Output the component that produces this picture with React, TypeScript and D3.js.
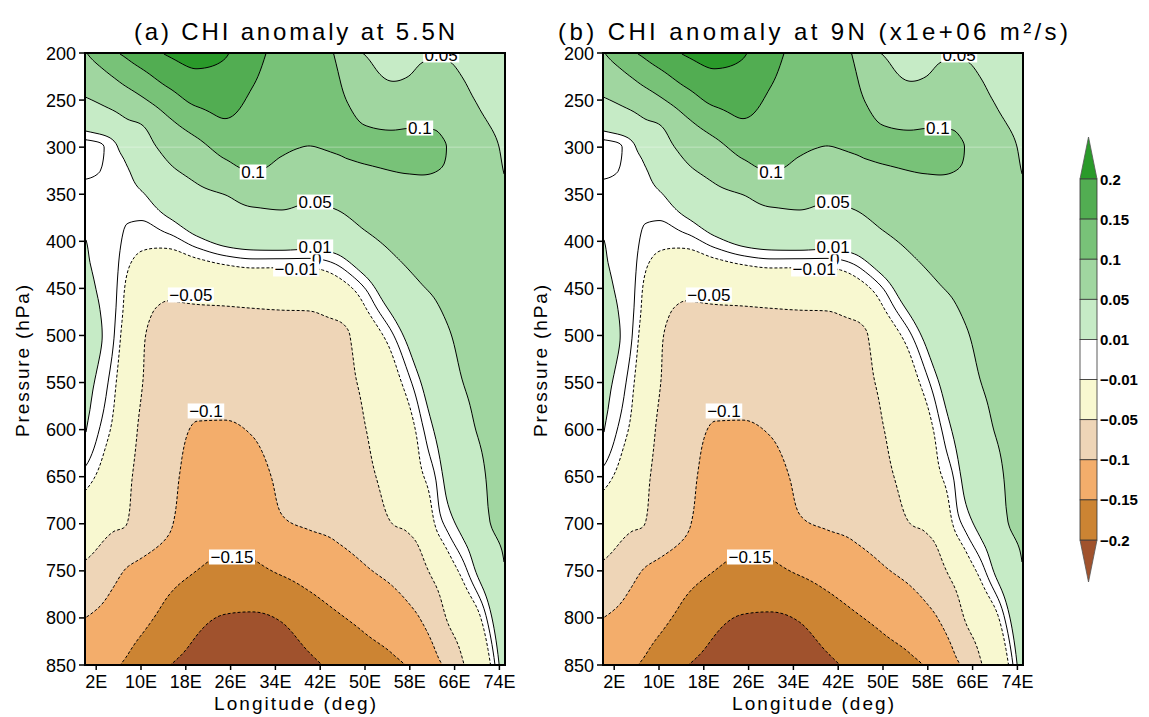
import React from "react";
import * as d3 from "d3";

// ---------------- data (velocity potential anomaly, x1e+06 m2/s) ----------------
const LON = [0, 2.5, 5, 7.5, 10, 15, 20, 25, 30, 35, 40, 45, 50, 55, 57.5, 60, 62.5, 65, 67.5, 70, 72.5, 75];
const PRES = [200, 225, 250, 275, 300, 325, 350, 375, 400, 425, 450, 475, 500, 550, 600, 650, 700, 750, 800, 850];

const p200 = [0.097, 0.12, 0.143, 0.16, 0.179, 0.205, 0.215, 0.204, 0.164, 0.137, 0.118, 0.096, 0.0485, 0.04, 0.041, 0.046, 0.048, 0.047, 0.043, 0.038, 0.034, 0.03];
const p225 = [0.0723, 0.0842, 0.1007, 0.1189, 0.1348, 0.1702, 0.1914, 0.1866, 0.155, 0.129, 0.1135, 0.102, 0.066, 0.046, 0.0495, 0.057, 0.059, 0.056, 0.0495, 0.0445, 0.039, 0.034];
const p250 = [0.0464, 0.0543, 0.065, 0.0777, 0.0927, 0.1284, 0.1604, 0.1663, 0.1421, 0.121, 0.109, 0.105, 0.086, 0.076, 0.074, 0.075, 0.072, 0.066, 0.056, 0.049, 0.044, 0.038];
const p275 = [0.0187, 0.0248, 0.0317, 0.044, 0.0507, 0.0907, 0.1213, 0.1447, 0.1283, 0.113, 0.1045, 0.108, 0.0991, 0.0943, 0.0957, 0.0966, 0.0957, 0.0851, 0.068, 0.056, 0.0488, 0.042];
const p300 = [-0.0035, -0.002, 0.006, 0.019, 0.033, 0.063, 0.087, 0.112, 0.1145, 0.1049, 0.0995, 0.104, 0.11, 0.111, 0.112, 0.11, 0.106, 0.098, 0.081, 0.068, 0.056, 0.046];
const p325 = [-0.0015, -0.0003, 0.005, 0.0085, 0.021, 0.0442, 0.0619, 0.0876, 0.1008, 0.0904, 0.0797, 0.0851, 0.0948, 0.1003, 0.1015, 0.1017, 0.1005, 0.096, 0.08, 0.069, 0.058, 0.049];
const p350 = [0.003, 0.004, 0.005, 0.005, 0.0082, 0.0272, 0.0411, 0.0506, 0.0656, 0.066, 0.0577, 0.064, 0.0774, 0.0861, 0.0892, 0.0917, 0.0914, 0.0868, 0.079, 0.072, 0.061, 0.052];
const p375 = [0.0067, 0.005, 0.005, 0.0011, 0.0009, 0.0101, 0.0241, 0.0326, 0.0387, 0.0423, 0.0374, 0.043, 0.06, 0.0718, 0.0766, 0.0806, 0.082, 0.0803, 0.077, 0.073, 0.063, 0.054];
const p400 = [0.0105, 0.0065, 0.0048, -0.0034, -0.0069, -0.0048, 0.0057, 0.015, 0.019, 0.0201, 0.018, 0.0222, 0.041, 0.0576, 0.0641, 0.0695, 0.0726, 0.0738, 0.074, 0.073, 0.064, 0.056];
const p425 = [0.0115, 0.0078, 0.0045, -0.0083, -0.014, -0.0222, -0.0162, -0.0101, -0.0066, -0.0069, -0.0068, 0.0, 0.0196, 0.043, 0.0516, 0.0585, 0.0632, 0.0673, 0.07, 0.071, 0.065, 0.058];
const p450 = [0.013, 0.009, 0.004, -0.0125, -0.0204, -0.0408, -0.038, -0.035, -0.0318, -0.0304, -0.0295, -0.02, 0.0, 0.0279, 0.039, 0.0478, 0.0538, 0.0608, 0.066, 0.069, 0.065, 0.059];
const p475 = [0.014, 0.0105, 0.003, -0.0162, -0.038, -0.056, -0.0546, -0.054, -0.0525, -0.051, -0.0505, -0.0407, -0.013, 0.0129, 0.0265, 0.0384, 0.0459, 0.0542, 0.062, 0.066, 0.064, 0.06];
const p500 = [0.0145, 0.0115, 0.0015, -0.021, -0.046, -0.06, -0.0645, -0.0641, -0.0614, -0.0569, -0.0557, -0.062, -0.027, -0.0008, 0.014, 0.0288, 0.039, 0.0482, 0.058, 0.063, 0.063, 0.06];
const p550 = [0.013, 0.0073, -0.0055, -0.0277, -0.048, -0.0677, -0.0842, -0.0844, -0.0793, -0.0688, -0.0661, -0.0632, -0.043, -0.018, -0.0047, 0.0101, 0.0253, 0.038, 0.05, 0.057, 0.061, 0.06];
const p600 = [0.011, 0.0002, -0.013, -0.034, -0.055, -0.08, -0.1032, -0.1037, -0.0972, -0.0807, -0.0765, -0.0736, -0.051, -0.0276, -0.0197, -0.0029, 0.0116, 0.0277, 0.0386, 0.051, 0.058, 0.059];
const p650 = [-0.004, -0.0132, -0.028, -0.0438, -0.06, -0.0858, -0.1189, -0.1203, -0.1156, -0.0926, -0.0869, -0.084, -0.06, -0.037, -0.0328, -0.013, -0.0003, 0.0175, 0.0271, 0.0384, 0.055, 0.058];
const p700 = [-0.0265, -0.0356, -0.044, -0.05, -0.065, -0.094, -0.1346, -0.1369, -0.1342, -0.104, -0.097, -0.092, -0.078, -0.0496, -0.0459, -0.0361, -0.0094, 0.0047, 0.0157, 0.0251, 0.0505, 0.055];
const p750 = [-0.0579, -0.068, -0.087, -0.1033, -0.113, -0.134, -0.1503, -0.1591, -0.1571, -0.1454, -0.1317, -0.1174, -0.1039, -0.0875, -0.0763, -0.0608, -0.0399, -0.0194, -0.005, 0.0119, 0.0295, 0.0497];
const p800 = [-0.1, -0.108, -0.12, -0.1293, -0.1388, -0.1646, -0.1899, -0.2027, -0.205, -0.197, -0.1748, -0.155, -0.1395, -0.1245, -0.1132, -0.0983, -0.0778, -0.0438, -0.0291, -0.0156, 0.0082, 0.036];
const p850 = [-0.125, -0.13, -0.145, -0.155, -0.171, -0.199, -0.212, -0.224, -0.226, -0.222, -0.208, -0.19, -0.17, -0.157, -0.148, -0.1275, -0.11, -0.089, -0.052, -0.036, -0.009, 0.025];

const CHI_ROWS = [p200, p225, p250, p275, p300, p325, p350, p375, p400, p425, p450, p475, p500, p550, p600, p650, p700, p750, p800, p850];

const FILL_LEVELS = [-0.2, -0.15, -0.1, -0.05, -0.01, 0.01, 0.05, 0.1, 0.15, 0.2];
const LINE_LEVELS = [-0.2, -0.15, -0.1, -0.05, -0.01, 0, 0.01, 0.05, 0.1, 0.15, 0.2];
// colour below first level, then above each level
const BAND_COLORS = ["#a0522d", "#cc8433", "#f3ad6b", "#eed5b7", "#f8f8d0", "#ffffff", "#c6ebc6", "#a0d6a0", "#78c278", "#52ad52", "#2a9a2a"];
const CBAR_LABELS = ["0.2", "0.15", "0.1", "0.05", "0.01", "\u22120.01", "\u22120.05", "\u22120.1", "\u22120.15", "\u22120.2"];

const X_TICKS = [2, 10, 18, 26, 34, 42, 50, 58, 66, 74];
const X_TICK_LABELS = ["2E", "10E", "18E", "26E", "34E", "42E", "50E", "58E", "66E", "74E"];
const Y_TICKS = [200, 250, 300, 350, 400, 450, 500, 550, 600, 650, 700, 750, 800, 850];

const LABEL_TEXT = ["0.05", "0.1", "0.1", "0.05", "0", "0.01", "\u22120.01", "\u22120.05", "\u22120.1", "\u22120.15"];
const LABEL_LON = [63.6, 59.8, 30.0, 41.1, 41.4, 41.1, 37.7, 18.9, 21.6, 26.25];
const LABEL_P = [202.1, 279.7, 326.4, 358.3, 418.8, 406.0, 429.4, 457.0, 580.2, 735.3];

const TITLES = ["(a) CHI anomaly at 5.5N", "(b) CHI anomaly at 9N (x1e+06 m\u00b2/s)"];

// ---------------- helpers ----------------
function monotoneInterp(xs: number[], ys: number[]) {
  const n = xs.length;
  const h: number[] = [];
  const s: number[] = [];
  for (let i = 0; i < n - 1; i++) {
    h[i] = xs[i + 1] - xs[i];
    s[i] = (ys[i + 1] - ys[i]) / h[i];
  }
  const m: number[] = new Array(n).fill(0);
  for (let i = 1; i < n - 1; i++) {
    const p = (s[i - 1] * h[i] + s[i] * h[i - 1]) / (h[i - 1] + h[i]);
    m[i] = (Math.sign(s[i - 1]) + Math.sign(s[i])) * Math.min(Math.abs(s[i - 1]), Math.abs(s[i]), 0.5 * Math.abs(p));
  }
  const end = (h0: number, h1: number, s0: number, s1: number) => {
    const p0 = s0 * (1 + h0 / (h0 + h1)) - (s1 * h0) / (h0 + h1);
    if (p0 * s0 <= 0) return 0;
    if (Math.abs(p0) > 2 * Math.abs(s0)) return 2 * s0;
    return p0;
  };
  m[0] = end(h[0], h[1], s[0], s[1]);
  m[n - 1] = end(h[n - 2], h[n - 3], s[n - 2], s[n - 3]);
  return (x: number) => {
    let i = 0;
    while (i < n - 2 && x > xs[i + 1]) i++;
    const t = Math.max(0, Math.min(1, (x - xs[i]) / h[i]));
    const t2 = t * t, t3 = t2 * t;
    return (2 * t3 - 3 * t2 + 1) * ys[i] + (t3 - 2 * t2 + t) * h[i] * m[i] + (-2 * t3 + 3 * t2) * ys[i + 1] + (t3 - t2) * h[i] * m[i + 1];
  };
}

const NX = 210;
const NY = 306;
const LON_MAX = 75;

function buildField(): number[] {
  const fineLon = d3.range(NX).map((i) => ((i + 0.5) / NX) * LON_MAX);
  const fineP = d3.range(NY).map((j) => 200 + ((j + 0.5) / NY) * 650);
  const rowsFine = CHI_ROWS.map((row) => {
    const f = monotoneInterp(LON, row);
    return fineLon.map(f);
  });
  const values = new Array(NX * NY);
  for (let i = 0; i < NX; i++) {
    const col = rowsFine.map((r) => r[i]);
    const f = monotoneInterp(PRES, col);
    for (let j = 0; j < NY; j++) values[j * NX + i] = f(fineP[j]);
  }
  return values;
}

const FIELD = buildField();
const FONT = "'Liberation Sans', Arial, Helvetica, sans-serif";

const PLOT_TOP = 53;
const PLOT_BOTTOM = 665;
const PLOT_W = 420;

function textWidth(t: string, size: number) {
  let w = 0;
  for (const c of t) {
    if (c === ".") w += 0.278;
    else if (c === "\u2212") w += 0.584;
    else w += 0.556;
  }
  return w * size;
}

function Panel({ x0, idx }: { x0: number; idx: number }) {
  const W = PLOT_W;
  const H = PLOT_BOTTOM - PLOT_TOP;
  const xs = d3.scaleLinear().domain([0, LON_MAX]).range([x0, x0 + W]);
  const ys = d3.scaleLinear().domain([200, 850]).range([PLOT_TOP, PLOT_BOTTOM]);
  const proj = d3.geoTransform({
    point(this: any, x: number, y: number) {
      this.stream.point(x0 + (x * W) / NX, PLOT_TOP + (y * H) / NY);
    },
  });
  const path = d3.geoPath(proj);
  const gen = d3.contours().size([NX, NY]);
  const clipId = `clip${idx}`;
  const fills = FILL_LEVELS.map((lv, k) => ({ d: path(gen.contour(FIELD, lv) as any) || "", color: BAND_COLORS[k + 1] }));
  const lines = LINE_LEVELS.map((lv) => ({ d: path(gen.contour(FIELD, lv) as any) || "", neg: lv < 0 }));
  const fs = 17;
  return (
    <g>
      <defs>
        <clipPath id={clipId}>
          <rect x={x0} y={PLOT_TOP} width={W} height={H} />
        </clipPath>
      </defs>
      <g clipPath={`url(#${clipId})`}>
        <rect x={x0} y={PLOT_TOP} width={W} height={H} fill={BAND_COLORS[0]} />
        {fills.map((f, k) => (
          <path key={k} d={f.d} fill={f.color} stroke="none" />
        ))}
        <line x1={x0} x2={x0 + W} y1={ys(300)} y2={ys(300)} stroke="#ffffff" strokeOpacity={0.35} strokeWidth={1} />
        {lines.map((l, k) => (
          <path key={k} d={l.d} fill="none" stroke="#000" strokeWidth={1} strokeDasharray={l.neg ? "3,2" : undefined} />
        ))}
        {LABEL_TEXT.map((t, k) => {
          const cx = xs(LABEL_LON[k]);
          const cy = ys(LABEL_P[k]);
          const w = textWidth(t, fs) + 3;
          return (
            <g key={k}>
              <rect x={cx - w / 2} y={cy - 7.5} width={w} height={15} fill="#fff" />
              <text x={cx} y={cy + 6} textAnchor="middle" fontSize={fs} fontFamily={FONT} fill="#000">
                {t}
              </text>
            </g>
          );
        })}
      </g>
      <rect x={x0} y={PLOT_TOP} width={W} height={H} fill="none" stroke="#000" strokeWidth={2} />
      {Y_TICKS.map((p) => (
        <g key={p}>
          <line x1={x0 - 6} x2={x0} y1={ys(p)} y2={ys(p)} stroke="#000" strokeWidth={1.5} />
          <text x={x0 - 9} y={ys(p) + 6.5} textAnchor="end" fontSize={18} fontFamily={FONT} fill="#000">
            {p}
          </text>
        </g>
      ))}
      {X_TICKS.map((lon, k) => (
        <g key={lon}>
          <line x1={xs(lon)} x2={xs(lon)} y1={PLOT_BOTTOM} y2={PLOT_BOTTOM + 5} stroke="#000" strokeWidth={1.5} />
          <text x={xs(lon)} y={688} textAnchor="middle" fontSize={18} fontFamily={FONT} fill="#000">
            {X_TICK_LABELS[k]}
          </text>
        </g>
      ))}
      <text x={x0 + 210} y={710} textAnchor="middle" fontSize={19} fontFamily={FONT} textLength={162} lengthAdjust="spacing">
        Longitude (deg)
      </text>
      <text transform={`translate(${x0 - 56},361) rotate(-90)`} textAnchor="middle" fontSize={19} fontFamily={FONT} textLength={152} lengthAdjust="spacing">
        Pressure (hPa)
      </text>
    </g>
  );
}

function ColorBar() {
  const x = 1080;
  const w = 17;
  const yb = d3.scaleLinear().domain([0, 9]).range([179, 540]);
  const bandColors = BAND_COLORS.slice(1, 10).reverse(); // from top (0.15-0.2) to bottom
  return (
    <g>
      <path d={`M${x},${yb(0)} L${x + w / 2},137 L${x + w},${yb(0)} Z`} fill={BAND_COLORS[10]} stroke="#555" strokeWidth={0.8} />
      <path d={`M${x},${yb(9)} L${x + w / 2},582 L${x + w},${yb(9)} Z`} fill={BAND_COLORS[0]} stroke="#555" strokeWidth={0.8} />
      {bandColors.map((c, k) => (
        <rect key={k} x={x} y={yb(k)} width={w} height={yb(k + 1) - yb(k)} fill={c} stroke="#333" strokeWidth={0.8} />
      ))}
      {CBAR_LABELS.map((t, k) => (
        <text key={k} x={x + w + 3} y={yb(k) + 5.5} fontSize={15} fontFamily={FONT} fontWeight="bold" fill="#000">
          {t}
        </text>
      ))}
    </g>
  );
}

export default function App() {
  return (
    <svg width={1149} height={717} viewBox="0 0 1149 717" style={{ display: "block", position: "absolute", left: 0, top: 0, background: "#fff" }}>
      <rect x={0} y={0} width={1149} height={717} fill="#fff" />
      <Panel x0={85} idx={0} />
      <Panel x0={603} idx={1} />
      <text x={294.5} y={40} textAnchor="middle" fontSize={24} fontFamily={FONT} textLength={321} lengthAdjust="spacing">
        {TITLES[0]}
      </text>
      <text x={813} y={40} textAnchor="middle" fontSize={24} fontFamily={FONT} textLength={510} lengthAdjust="spacing">
        {TITLES[1]}
      </text>
      <ColorBar />
    </svg>
  );
}
